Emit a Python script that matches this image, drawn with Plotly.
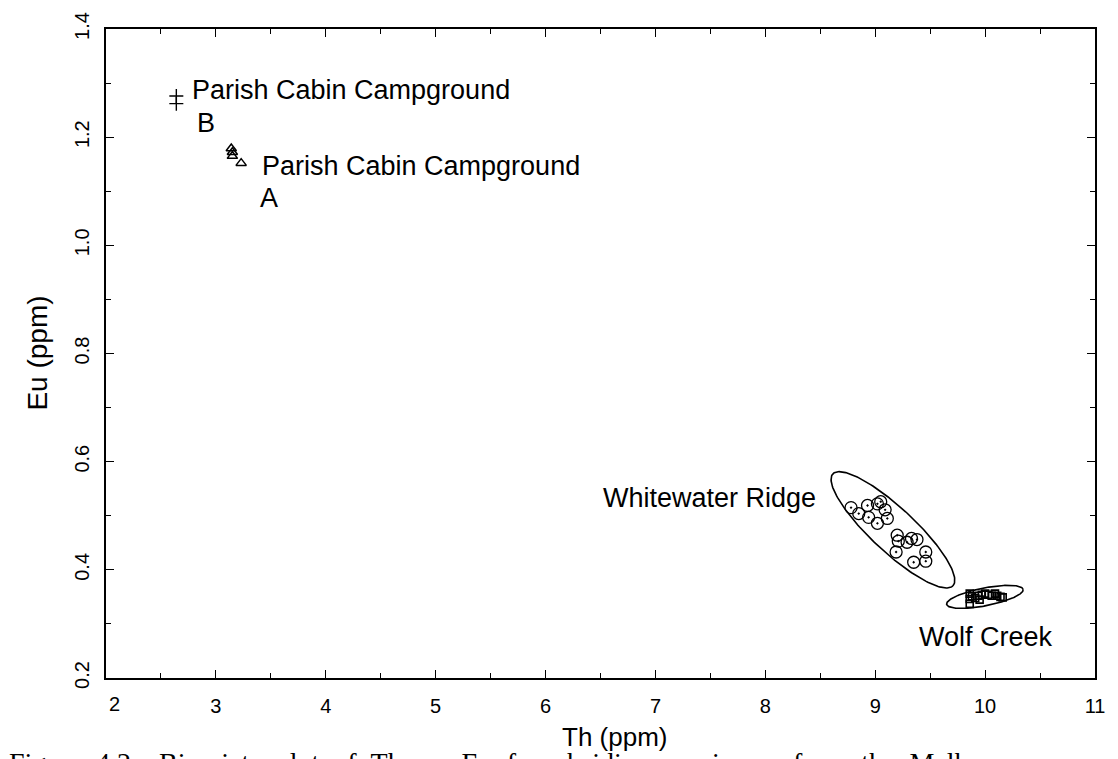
import numpy as np
import plotly.graph_objects as go

# --- Th / Eu concentrations (ppm) by obsidian source ---
parish_b_th = [2.64, 2.64]
parish_b_eu = [1.276, 1.262]

parish_a_th = [3.14, 3.15, 3.15, 3.23]
parish_a_eu = [1.179, 1.172, 1.165, 1.152]

whitewater_th = [8.78, 8.85, 8.93, 9.02, 9.05, 9.09, 8.94, 9.02, 9.11,
                 9.20, 9.21, 9.29, 9.33, 9.38, 9.19, 9.35, 9.46, 9.46]
whitewater_eu = [0.515, 0.504, 0.519, 0.522, 0.526, 0.511, 0.497, 0.486, 0.495,
                 0.464, 0.453, 0.451, 0.458, 0.456, 0.433, 0.414, 0.433, 0.416]

wolf_th = [9.86, 9.86, 9.86, 9.88, 9.91, 9.94, 9.97, 10.00, 10.03,
           10.06, 10.09, 10.11, 10.14, 10.16, 9.95]
wolf_eu = [0.356, 0.346, 0.337, 0.351, 0.348, 0.352, 0.354, 0.356, 0.354,
           0.352, 0.356, 0.352, 0.350, 0.349, 0.345]

# Group ellipses: centre, semi-axis vectors (data units)
ww_center = (9.161, 0.474)
ww_axis_u = (0.546, -0.1035)
ww_axis_v = (0.137, 0.0293)

wolf_center = (9.998, 0.350)
wolf_axis_u = (0.348, 0.0139)
wolf_axis_v = (0.0159, -0.0162)

x_ticks = [2, 3, 4, 5, 6, 7, 8, 9, 10, 11]
y_ticks = [0.2, 0.4, 0.6, 0.8, 1.0, 1.2, 1.4]

SANS = "Liberation Sans, Arial, sans-serif"
SERIF = "Liberation Serif, Times New Roman, serif"


def ellipse(center, u, v, n=200):
    t = np.linspace(0, 2 * np.pi, n)
    x = center[0] + np.cos(t) * u[0] + np.sin(t) * v[0]
    y = center[1] + np.cos(t) * u[1] + np.sin(t) * v[1]
    return x, y


fig = go.Figure()

for c, u, v in [(ww_center, ww_axis_u, ww_axis_v), (wolf_center, wolf_axis_u, wolf_axis_v)]:
    ex, ey = ellipse(c, u, v)
    fig.add_trace(go.Scatter(x=ex, y=ey, mode="lines",
                             line=dict(color="black", width=1.6),
                             hoverinfo="skip", showlegend=False))

fig.add_trace(go.Scatter(x=parish_b_th, y=parish_b_eu, mode="markers",
                         marker=dict(symbol="cross-thin", size=10, color="black",
                                     line=dict(color="black", width=1.4)),
                         name="Parish Cabin Campground B", showlegend=False))
fig.add_trace(go.Scatter(x=parish_a_th, y=parish_a_eu, mode="markers",
                         marker=dict(symbol="triangle-up-open", size=9, color="black",
                                     line=dict(color="black", width=1.5)),
                         name="Parish Cabin Campground A", showlegend=False))
fig.add_trace(go.Scatter(x=whitewater_th, y=whitewater_eu, mode="markers",
                         marker=dict(symbol="circle-open-dot", size=12, color="black",
                                     line=dict(color="black", width=1.3)),
                         name="Whitewater Ridge", showlegend=False))
fig.add_trace(go.Scatter(x=wolf_th, y=wolf_eu, mode="markers",
                         marker=dict(symbol="square-open", size=7, color="black",
                                     line=dict(color="black", width=1.6)),
                         name="Wolf Creek", showlegend=False))

label_font = dict(family=SANS, size=27, color="black")
labels = [
    (2.76, 1.288, "Parish Cabin Campground", "left"),
    (2.81, 1.227, "B", "left"),
    (3.40, 1.146, "Parish Cabin Campground", "left"),
    (3.38, 1.088, "A", "left"),
    (8.48, 0.533, "Whitewater Ridge", "right"),
    (9.38, 0.275, "Wolf Creek", "left"),
]
annotations = [dict(x=x, y=y, text=t, xref="x", yref="y", xanchor=a,
                    yanchor="middle", showarrow=False, font=label_font)
               for x, y, t, a in labels]

# first x tick label sits slightly right of the axis corner
annotations.append(dict(x=2.08, y=0, xref="x", yref="paper", text="2",
                        xanchor="center", yanchor="top", yshift=-13,
                        showarrow=False, font=dict(family=SANS, size=20, color="black")))
annotations.append(dict(x=0.514, y=-0.065, xref="paper", yref="paper", text="Th (ppm)",
                        xanchor="center", yanchor="top", showarrow=False,
                        font=dict(family=SANS, size=26, color="black")))
annotations.append(dict(x=-0.069, y=0.501, xref="paper", yref="paper", text="Eu (ppm)",
                        xanchor="center", yanchor="middle", textangle=-90, showarrow=False,
                        font=dict(family=SANS, size=28, color="black")))

caption_words = ["Figure", "4.2.", "\u00a0Bivariate", "plot", "of", "Th", "vs.", "Eu", "for",
                 "obsidian", "specimens", "from", "the", "Malheur"]
annotations.append(dict(x=-0.1, y=-0.103, xref="paper", yref="paper",
                        text=" \u00a0".join(caption_words),
                        xanchor="left", yanchor="top", showarrow=False,
                        font=dict(family=SERIF, size=28, color="black")))

axis_common = dict(showgrid=False, zeroline=False, showline=True, linecolor="black",
                   linewidth=1.6, mirror="ticks", ticks="inside", ticklen=8,
                   tickwidth=1.2, tickcolor="black",
                   tickfont=dict(family=SANS, size=20, color="black"))

fig.update_layout(
    width=1118, height=759,
    margin=dict(l=106, r=23, t=23, b=81),
    paper_bgcolor="white", plot_bgcolor="white",
    showlegend=False,
    xaxis=dict(range=[2, 11], tickvals=x_ticks,
               ticktext=[""] + [str(v) for v in x_ticks[1:]],
               ticklabelstandoff=9,
               minor=dict(dtick=0.5, ticks="inside", ticklen=5, tickwidth=1, tickcolor="black"),
               **axis_common),
    yaxis=dict(range=[0.2, 1.4], tickvals=y_ticks,
               ticktext=[f"{v:.1f}" for v in y_ticks],
               tickangle=-90, ticklabelstandoff=7,
               minor=dict(dtick=0.1, ticks="inside", ticklen=5, tickwidth=1, tickcolor="black"),
               **axis_common),
    annotations=annotations,
)

fig.write_html("out.html")
